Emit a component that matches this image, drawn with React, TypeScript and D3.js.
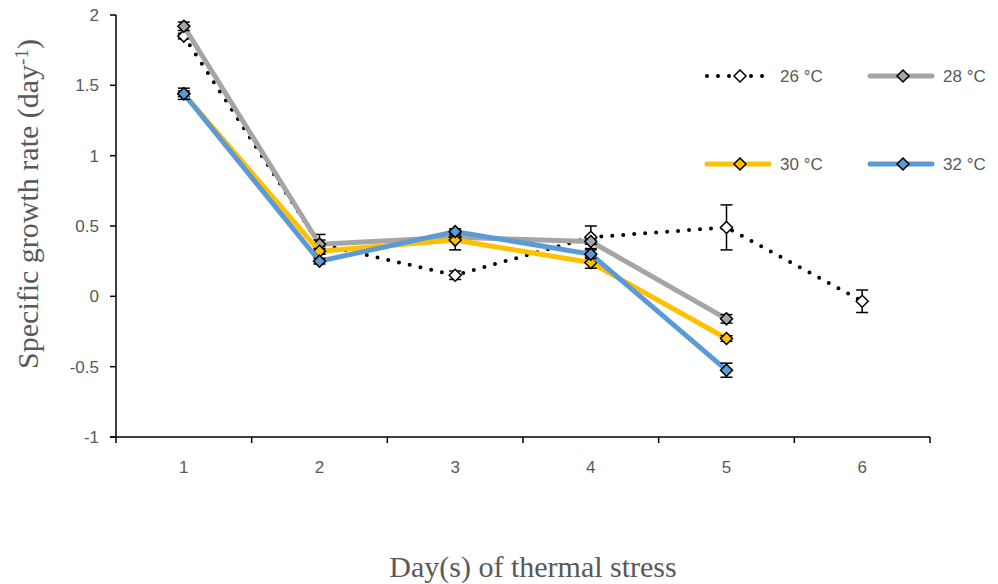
import React from "react";
import * as d3 from "d3";

const days = ["1", "2", "3", "4", "5", "6"];
const yTicks = [-1, -0.5, 0, 0.5, 1, 1.5, 2];

const t26 = [1.85, 0.37, 0.15, 0.42, 0.49, -0.035];
const t26Err = [0.02, 0.07, 0.03, 0.08, 0.16, 0.08];
const t28 = [1.92, 0.37, 0.42, 0.39, -0.16];
const t28Err = [0.03, 0.03, 0.02, 0.02, 0.03];
const t30 = [1.44, 0.32, 0.4, 0.24, -0.3];
const t30Err = [0.02, 0.02, 0.07, 0.04, 0.02];
const t32 = [1.44, 0.25, 0.46, 0.3, -0.525];
const t32Err = [0.04, 0.02, 0.02, 0.03, 0.05];

const series = [
  { name: "26 °C", values: t26, err: t26Err, color: "#000000", fill: "#ffffff", dotted: true },
  { name: "28 °C", values: t28, err: t28Err, color: "#A5A5A5", fill: "#A5A5A5", dotted: false },
  { name: "30 °C", values: t30, err: t30Err, color: "#FFC000", fill: "#FFC000", dotted: false },
  { name: "32 °C", values: t32, err: t32Err, color: "#5B9BD5", fill: "#5B9BD5", dotted: false },
];

const W = 998;
const H = 584;
const left = 116, right = 930, top = 15, bottom = 437;
const tickFont = "'Liberation Sans', Arial, sans-serif";
const titleFont = "'Liberation Serif', 'Times New Roman', serif";
const gray = "#595959";

function diamond(cx: number, cy: number, r: number) {
  return `M${cx},${cy - r}L${cx + r},${cy}L${cx},${cy + r}L${cx - r},${cy}Z`;
}

export default function App() {
  const x = d3.scaleBand().domain(days).range([left, right]);
  const y = d3.scaleLinear().domain([-1, 2]).range([bottom, top]);
  const cx = (i: number) => (x(days[i]) as number) + x.bandwidth() / 2;
  const line = d3.line<number>().x((_, i) => cx(i)).y((d) => y(d));

  const legendPos = [
    { lx: 707, ly: 76 },
    { lx: 870, ly: 76 },
    { lx: 707, ly: 164 },
    { lx: 870, ly: 164 },
  ];

  return (
    <svg width={W} height={H} style={{ position: "absolute", left: 0, top: 0, background: "#fff" }}>
      {/* axes */}
      <line x1={left} x2={left} y1={top} y2={bottom} stroke="#000" strokeWidth={1.5} />
      <line x1={left - 6} x2={right} y1={bottom} y2={bottom} stroke="#000" strokeWidth={1.5} />
      {yTicks.map((t) => (
        <g key={t}>
          <line x1={left - 6} x2={left} y1={y(t)} y2={y(t)} stroke="#000" strokeWidth={1.5} />
          <text x={left - 17} y={y(t)} dy="0.36em" textAnchor="end" fontFamily={tickFont} fontSize={17} fill={gray}>
            {t}
          </text>
        </g>
      ))}
      {d3.range(days.length + 1).map((i) => {
        const px = left + i * x.bandwidth();
        return <line key={i} x1={px} x2={px} y1={bottom} y2={bottom + 6} stroke="#000" strokeWidth={1.5} />;
      })}
      {days.map((d, i) => (
        <text key={d} x={cx(i)} y={bottom + 36} textAnchor="middle" fontFamily={tickFont} fontSize={17} fill={gray}>
          {d}
        </text>
      ))}

      {/* series */}
      {series.map((s) => (
        <g key={s.name}>
          <path
            d={line(s.values) || ""}
            fill="none"
            stroke={s.color}
            strokeWidth={s.dotted ? 4 : 5}
            strokeDasharray={s.dotted ? "0 11" : undefined}
            strokeLinecap="round"
            strokeLinejoin="round"
          />
          {s.values.map((v, i) => {
            const px = cx(i);
            const y1 = y(v + s.err[i]);
            const y2 = y(v - s.err[i]);
            return (
              <g key={i} stroke="#000" strokeWidth={1.5}>
                <line x1={px} x2={px} y1={y1} y2={y2} />
                <line x1={px - 6} x2={px + 6} y1={y1} y2={y1} />
                <line x1={px - 6} x2={px + 6} y1={y2} y2={y2} />
              </g>
            );
          })}
          {s.values.map((v, i) => (
            <path key={"m" + i} d={diamond(cx(i), y(v), 6)} fill={s.fill} stroke="#000" strokeWidth={1.5} />
          ))}
        </g>
      ))}

      {/* legend */}
      {series.map((s, i) => {
        const { lx, ly } = legendPos[i];
        return (
          <g key={"lg" + s.name}>
            <line
              x1={lx}
              x2={lx + 62}
              y1={ly}
              y2={ly}
              stroke={s.color}
              strokeWidth={s.dotted ? 4 : 5}
              strokeDasharray={s.dotted ? "0 11" : undefined}
              strokeLinecap="round"
            />
            <path d={diamond(lx + 33, ly, 6)} fill={s.fill} stroke="#000" strokeWidth={1.5} />
            <text x={lx + 73} y={ly} dy="0.36em" fontFamily={tickFont} fontSize={17} fill={gray}>
              {s.name}
            </text>
          </g>
        );
      })}

      {/* axis titles */}
      <text
        transform={`translate(38, 204) rotate(-90)`}
        textAnchor="middle"
        fontFamily={titleFont}
        fontSize={30}
        fill={gray}
      >
        Specific growth rate (day
        <tspan baselineShift="super" fontSize={19}>-1</tspan>
        )
      </text>
      <text x={533} y={577} textAnchor="middle" fontFamily={titleFont} fontSize={30} fill={gray}>
        Day(s) of thermal stress
      </text>
    </svg>
  );
}
